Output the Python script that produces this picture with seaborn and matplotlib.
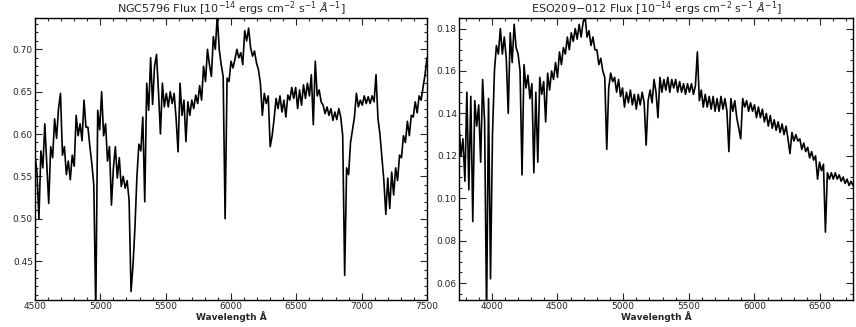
import numpy as np
import pandas as pd
import matplotlib
matplotlib.use("Agg")
import matplotlib.pyplot as plt
from matplotlib.ticker import MultipleLocator, FormatStrFormatter
import seaborn as sns

# Wavelength sampling (Angstrom) of the two extracted spectra
ngc_start, ngc_step, ngc_n = 4500, 15, 201
eso_start, eso_step, eso_n = 3750, 15, 201

# NGC5796 flux, 1e-14 erg cm^-2 s^-1 A^-1
ngc_flux = [
    0.575, 0.555, 0.500, 0.580, 0.560, 0.612, 0.565, 0.518, 0.585, 0.572,
    0.618, 0.595, 0.630, 0.648, 0.575, 0.585, 0.552, 0.568, 0.546, 0.575,
    0.562, 0.622, 0.598, 0.612, 0.592, 0.640, 0.608, 0.608, 0.585, 0.565,
    0.540, 0.390, 0.628, 0.605, 0.650, 0.598, 0.612, 0.568, 0.585, 0.516,
    0.560, 0.585, 0.548, 0.572, 0.538, 0.550, 0.536, 0.545, 0.522, 0.414,
    0.445, 0.490, 0.550, 0.588, 0.580, 0.620, 0.520, 0.660, 0.628, 0.690,
    0.635, 0.680, 0.694, 0.650, 0.600, 0.660, 0.632, 0.648, 0.632, 0.650,
    0.636, 0.648, 0.618, 0.579, 0.660, 0.622, 0.640, 0.591, 0.638, 0.622,
    0.640, 0.630, 0.646, 0.636, 0.657, 0.640, 0.680, 0.662, 0.700, 0.682,
    0.668, 0.715, 0.700, 0.740, 0.700, 0.682, 0.668, 0.500, 0.666, 0.662,
    0.686, 0.678, 0.688, 0.700, 0.690, 0.696, 0.682, 0.722, 0.710, 0.725,
    0.702, 0.692, 0.698, 0.684, 0.676, 0.660, 0.622, 0.648, 0.636, 0.645,
    0.585, 0.598, 0.618, 0.642, 0.630, 0.645, 0.626, 0.640, 0.620, 0.646,
    0.640, 0.655, 0.642, 0.655, 0.630, 0.652, 0.634, 0.658, 0.642, 0.660,
    0.645, 0.670, 0.611, 0.686, 0.645, 0.652, 0.638, 0.634, 0.624, 0.632,
    0.622, 0.630, 0.616, 0.626, 0.617, 0.630, 0.620, 0.598, 0.433, 0.560,
    0.552, 0.590, 0.605, 0.620, 0.648, 0.632, 0.640, 0.634, 0.645, 0.636,
    0.644, 0.636, 0.645, 0.638, 0.670, 0.618, 0.600, 0.572, 0.545, 0.505,
    0.548, 0.512, 0.555, 0.528, 0.560, 0.545, 0.575, 0.572, 0.598, 0.590,
    0.615, 0.598, 0.622, 0.620, 0.638, 0.625, 0.645, 0.640, 0.655, 0.670,
    0.690,
]

# ESO209-012 flux, 1e-14 erg cm^-2 s^-1 A^-1
eso_flux = [
    0.134, 0.120, 0.128, 0.108, 0.150, 0.104, 0.148, 0.089, 0.146, 0.134,
    0.144, 0.117, 0.156, 0.136, 0.045, 0.147, 0.062, 0.130, 0.160, 0.172,
    0.168, 0.180, 0.168, 0.176, 0.166, 0.140, 0.178, 0.164, 0.182, 0.171,
    0.168, 0.160, 0.111, 0.163, 0.152, 0.158, 0.147, 0.154, 0.112, 0.150,
    0.117, 0.157, 0.149, 0.155, 0.136, 0.159, 0.151, 0.160, 0.156, 0.164,
    0.157, 0.169, 0.163, 0.171, 0.168, 0.176, 0.170, 0.178, 0.174, 0.180,
    0.175, 0.182, 0.176, 0.183, 0.186, 0.176, 0.179, 0.172, 0.176, 0.170,
    0.170, 0.163, 0.166, 0.160, 0.157, 0.123, 0.152, 0.159, 0.155, 0.157,
    0.150, 0.156, 0.148, 0.152, 0.143, 0.150, 0.145, 0.151, 0.144, 0.149,
    0.142, 0.149, 0.144, 0.150, 0.145, 0.125, 0.146, 0.151, 0.145, 0.156,
    0.150, 0.138, 0.157, 0.150, 0.156, 0.151, 0.157, 0.150, 0.156, 0.152,
    0.156, 0.150, 0.155, 0.150, 0.154, 0.149, 0.154, 0.150, 0.154, 0.149,
    0.153, 0.169, 0.146, 0.151, 0.143, 0.149, 0.143, 0.148, 0.142, 0.148,
    0.141, 0.147, 0.141, 0.148, 0.142, 0.147, 0.141, 0.122, 0.147, 0.141,
    0.146, 0.138, 0.133, 0.128, 0.147, 0.143, 0.146, 0.141, 0.145, 0.141,
    0.144, 0.138, 0.143, 0.138, 0.142, 0.136, 0.140, 0.134, 0.139, 0.133,
    0.137, 0.132, 0.136, 0.131, 0.135, 0.130, 0.134, 0.128, 0.121, 0.131,
    0.127, 0.130, 0.127, 0.128, 0.123, 0.126, 0.122, 0.124, 0.119, 0.122,
    0.118, 0.120, 0.109, 0.117, 0.113, 0.116, 0.084, 0.112, 0.109, 0.112,
    0.109, 0.112, 0.109, 0.111, 0.108, 0.110, 0.107, 0.109, 0.106, 0.108,
    0.106,
]

ngc = pd.DataFrame({
    "wavelength": ngc_start + ngc_step * np.arange(ngc_n),
    "flux": ngc_flux,
})
eso = pd.DataFrame({
    "wavelength": eso_start + eso_step * np.arange(eso_n),
    "flux": eso_flux,
})

sns.set_style("ticks")
plt.rcParams["font.family"] = ["DejaVu Sans"]
plt.rcParams["xtick.direction"] = "in"
plt.rcParams["ytick.direction"] = "in"

fig = plt.figure(figsize=(8.56, 3.27), dpi=100)
ax1 = fig.add_axes([0.0409, 0.0826, 0.4579, 0.8624])
ax2 = fig.add_axes([0.5362, 0.0826, 0.4603, 0.8624])

unit = r"[10$^{-14}$ ergs cm$^{-2}$ s$^{-1}$ $\AA^{-1}$]"

panels = [
    (ax1, ngc, "NGC5796 Flux " + unit, (4500, 7500), (0.404, 0.737), 0.05, 0.01),
    (ax2, eso, "ESO209$-$012 Flux " + unit, (3750, 6750), (0.052, 0.185), 0.02, 0.005),
]

for ax, df, title, xlim, ylim, ymaj, ymin in panels:
    sns.lineplot(data=df, x="wavelength", y="flux", ax=ax, color="black",
                 linewidth=1.2, estimator=None, sort=False)
    ax.set_xlim(*xlim)
    ax.set_ylim(*ylim)
    ax.set_title(title, fontsize=8, pad=2)
    ax.set_xlabel("Wavelength Å", fontsize=6.5, labelpad=0, fontweight="bold")
    ax.set_ylabel("")
    ax.xaxis.set_major_locator(MultipleLocator(500))
    ax.xaxis.set_minor_locator(MultipleLocator(100))
    ax.yaxis.set_major_locator(MultipleLocator(ymaj))
    ax.yaxis.set_minor_locator(MultipleLocator(ymin))
    ax.yaxis.set_major_formatter(FormatStrFormatter("%.2f"))
    ax.tick_params(which="both", top=True, right=True, direction="in",
                   labelsize=6.5, width=0.8, pad=1.5)
    ax.tick_params(which="major", length=5)
    ax.tick_params(which="minor", length=2.5)
    for s in ax.spines.values():
        s.set_linewidth(1.0)
        s.set_color("black")

fig.savefig("out.png", dpi=100)
